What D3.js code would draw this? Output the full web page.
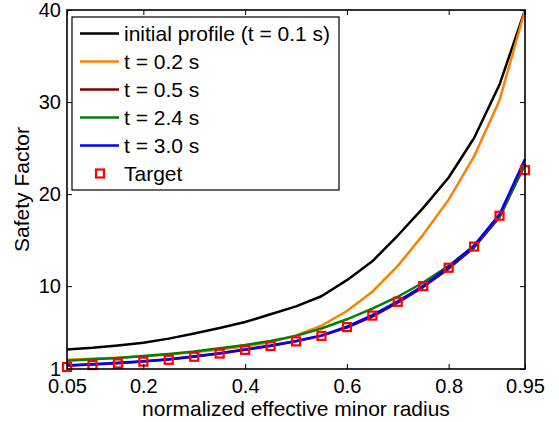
<!DOCTYPE html>
<html><head><meta charset="utf-8">
<script src="https://cdn.jsdelivr.net/npm/d3@7"></script>
<style>html,body{margin:0;padding:0;background:#fff;}svg{display:block;font-family:"Liberation Sans",Arial,Helvetica,sans-serif;}</style>
</head><body>
<script>
const xs = [0.05,0.1,0.15,0.2,0.25,0.3,0.35,0.4,0.45,0.5,0.55,0.6,0.65,0.7,0.75,0.8,0.85,0.9,0.95];
const initialProfile = [3.13,3.3,3.55,3.85,4.3,4.85,5.45,6.1,6.95,7.8,8.9,10.65,12.7,15.5,18.5,21.8,26.1,31.9,40];
const t02 = [2.0,2.1,2.22,2.38,2.58,2.82,3.12,3.45,3.9,4.65,5.7,7.3,9.4,12.2,15.6,19.4,24.1,30.2,40];
const t05 = [1.35,1.48,1.63,1.82,2.03,2.33,2.68,3.08,3.5,4.0,4.6,5.5,6.7,8.2,9.9,11.9,14.2,17.5,23.2];
const t24 = [1.9,2.05,2.2,2.4,2.62,2.9,3.25,3.6,4.05,4.6,5.4,6.4,7.55,8.85,10.4,12.2,14.4,17.6,23.3];
const t30 = [1.4,1.52,1.67,1.85,2.07,2.38,2.72,3.12,3.55,4.05,4.65,5.6,6.85,8.35,10.05,12.1,14.4,17.8,23.8];
const target = [1.22,1.43,1.6,1.8,2.0,2.33,2.68,3.08,3.5,4.0,4.6,5.55,6.8,8.3,10.0,12.0,14.3,17.65,22.6];
const seriesNames = ["initial profile (t = 0.1 s)","t = 0.2 s","t = 0.5 s","t = 2.4 s","t = 3.0 s"];
const seriesColors = ["#000000","#ff8000","#800000","#008000","#0000ff"];
const targetName = "Target";
const xTicks = [0.05,0.2,0.4,0.6,0.8,0.95];
const yTicks = [1,10,20,30,40];
const xLabel = "normalized effective minor radius";
const yLabel = "Safety Factor";

const W = 559, H = 422;
const L = 67, R = 525, T = 10, B = 369;
const svg = d3.select("body").append("svg").attr("width", W).attr("height", H);
svg.append("rect").attr("width", W).attr("height", H).attr("fill", "#fff");

const x = d3.scaleLinear().domain([0.05,0.95]).range([L,R]);
const y = d3.scaleLinear().domain([1,40]).range([B,T]);

svg.append("defs").append("clipPath").attr("id","clip")
  .append("rect").attr("x",L).attr("y",T-2).attr("width",R-L+2).attr("height",B-T+2);

const allSeries = [initialProfile,t02,t05,t24,t30];
const line = d3.line().x((d,i)=>x(xs[i])).y(d=>y(d));
const plot = svg.append("g").attr("clip-path","url(#clip)");
allSeries.forEach((s,k)=>{
  plot.append("path").datum(s).attr("d",line).attr("fill","none")
    .attr("stroke",seriesColors[k]).attr("stroke-width",2.5).attr("stroke-linejoin","round");
});
svg.append("g").selectAll("rect").data(target).join("rect")
  .attr("x",(d,i)=>x(xs[i])-4).attr("y",d=>y(d)-4).attr("width",8).attr("height",8)
  .attr("fill","none").attr("stroke","#ff0000").attr("stroke-width",2.2);

// axes
const fs = 20;
const ax = svg.append("g").attr("transform",`translate(0,${B})`)
  .call(d3.axisBottom(x).tickValues(xTicks).tickSize(-5).tickPadding(10).tickFormat(d=>String(d)));
const axT = svg.append("g").attr("transform",`translate(0,${T})`)
  .call(d3.axisTop(x).tickValues(xTicks).tickSize(-5).tickFormat(""));
const ay = svg.append("g").attr("transform",`translate(${L},0)`)
  .call(d3.axisLeft(y).tickValues(yTicks).tickSize(-5).tickPadding(6).tickFormat(d=>String(d)));
const ayR = svg.append("g").attr("transform",`translate(${R},0)`)
  .call(d3.axisRight(y).tickValues(yTicks).tickSize(-5).tickFormat(""));
[ax,axT,ay,ayR].forEach(g=>{
  g.select(".domain").remove();
  g.selectAll("line").attr("stroke","#000").attr("stroke-width",1);
  g.selectAll("text").attr("font-size",fs).attr("fill","#000").attr("font-family","Liberation Sans, Arial, sans-serif");
});
svg.append("rect").attr("x",L).attr("y",T).attr("width",R-L).attr("height",B-T)
  .attr("fill","none").attr("stroke","#000").attr("stroke-width",1.6);

svg.append("text").attr("x",(L+R)/2).attr("y",416).attr("text-anchor","middle")
  .attr("font-size",21).text(xLabel);
svg.append("text").attr("transform",`translate(29,${(T+B)/2}) rotate(-90)`).attr("text-anchor","middle")
  .attr("font-size",21).text(yLabel);

// legend
const lg = svg.append("g");
lg.append("rect").attr("x",72).attr("y",17).attr("width",267).attr("height",173)
  .attr("fill","#fff").attr("stroke","#000").attr("stroke-width",1.2);
const rowY = k => 33.5 + k*28;
seriesNames.forEach((n,k)=>{
  lg.append("line").attr("x1",80).attr("x2",119).attr("y1",rowY(k)).attr("y2",rowY(k))
    .attr("stroke",seriesColors[k]).attr("stroke-width",2.5);
  lg.append("text").attr("x",124).attr("y",rowY(k)+7.5).attr("font-size",21).text(n);
});
lg.append("rect").attr("x",100-4).attr("y",rowY(5)-4).attr("width",8).attr("height",8)
  .attr("fill","none").attr("stroke","#ff0000").attr("stroke-width",2.2);
lg.append("text").attr("x",124).attr("y",rowY(5)+7.5).attr("font-size",21).text(targetName);
</script>
</body></html>
